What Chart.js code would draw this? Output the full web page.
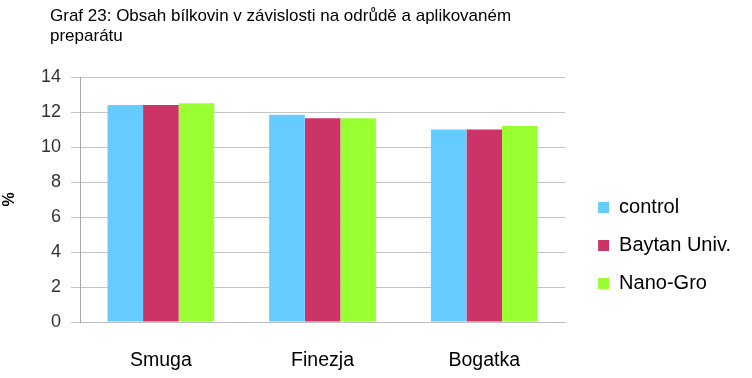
<!DOCTYPE html>
<html>
<head>
<meta charset="utf-8">
<script src="https://cdn.jsdelivr.net/npm/chart.js@4"></script>
<style>
  body { margin: 0; background: #fff; }
  #wrap { position: relative; width: 752px; height: 378px; }
  #title {
    position: absolute; left: 50px; top: 6px;
    font: 17px "Liberation Sans", Arial, sans-serif; line-height: 20px; color: #000;
  }
</style>
</head>
<body>
<div id="wrap">
  <div id="title">Graf 23: Obsah bílkovin v závislosti na odrůdě a aplikovaném<br>preparátu</div>
  <canvas id="chart" width="752" height="378"></canvas>
</div>
<script>
// Categories (varieties) and series values (% protein)
const varieties = ['Smuga', 'Finezja', 'Bogatka'];
const controlValues = [12.4, 11.85, 11.0];
const baytanValues = [12.4, 11.65, 11.0];
const nanoGroValues = [12.5, 11.65, 11.2];
const yTicks = [0, 2, 4, 6, 8, 10, 12, 14];

const ctx = document.getElementById('chart').getContext('2d');

// nudge the legend a bit away from the plot, like the original
const legendOffset = {
    id: 'legendOffset',
    afterLayout(chart) {
        const lg = chart.legend;
        lg.left += 15; lg.right += 15;
        lg.top += 18; lg.bottom += 18;
    }
};

const chart = new Chart(ctx, {
    type: 'bar',
    data: {
        labels: varieties,
        datasets: [
            { label: 'control', data: controlValues, backgroundColor: '#66CCFF' },
            { label: 'Baytan Univ.', data: baytanValues, backgroundColor: '#CC3366' },
            { label: 'Nano-Gro', data: nanoGroValues, backgroundColor: '#99FF33' }
        ]
    },
    plugins: [legendOffset],
    options: {
        responsive: false,
        animation: false,
        layout: { padding: { top: 77, right: 26, bottom: 0, left: 0 } },
        datasets: { bar: { categoryPercentage: 0.66, barPercentage: 1.0 } },
        plugins: {
            tooltip: { enabled: false },
            legend: {
                position: 'right',
                labels: {
                    boxWidth: 11,
                    boxHeight: 11,
                    padding: 18,
                    color: '#000',
                    font: { family: 'Liberation Sans', size: 20 }
                }
            }
        },
        scales: {
            x: {
                grid: { display: false, drawTicks: false },
                border: { display: true, color: '#bdbdbd' },
                ticks: {
                    padding: 27,
                    color: '#000',
                    font: { family: 'Liberation Sans', size: 19.5 }
                },
                afterFit: (scale) => { scale.height = 56; }
            },
            y: {
                min: 0,
                max: 14,
                afterBuildTicks: (scale) => { scale.ticks = yTicks.map(v => ({ value: v })); },
                grid: { color: '#c4c4c4', tickLength: 9 },
                border: { color: '#a6a6a6' },
                ticks: {
                    padding: 10,
                    color: '#333',
                    font: { family: 'Liberation Sans', size: 18 }
                },
                title: {
                    display: true,
                    text: '%',
                    color: '#000',
                    font: { family: 'Liberation Sans', size: 16, weight: 'bold' },
                    padding: { top: 0, bottom: 0 }
                },
                afterFit: (scale) => { scale.width = 80; }
            }
        }
    }
});
</script>
</body>
</html>
